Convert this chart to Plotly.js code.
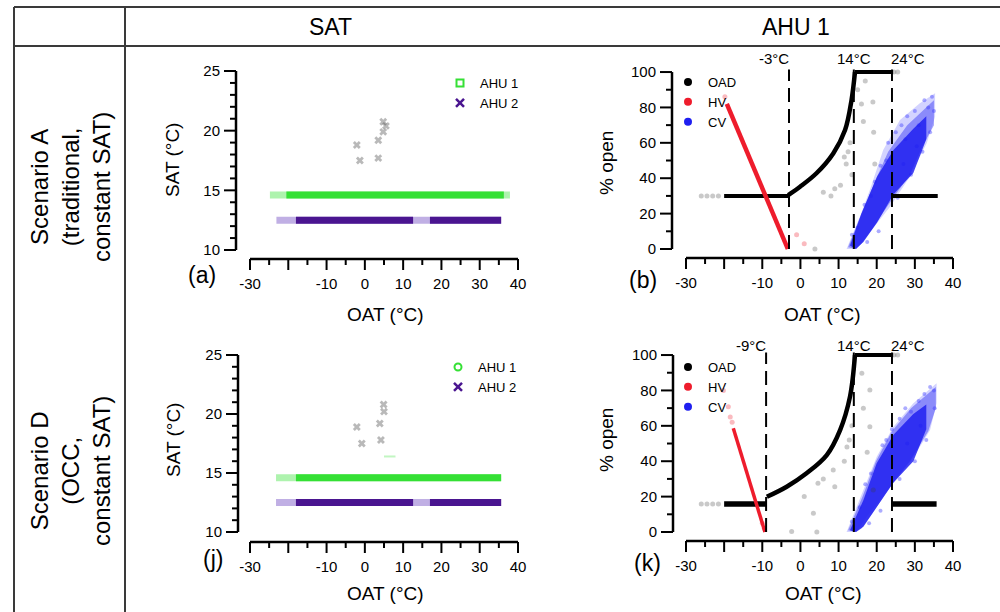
<!DOCTYPE html>
<html>
<head>
<meta charset="utf-8">
<script src="https://cdn.plot.ly/plotly-3.0.1.min.js"></script>
<style>html,body{margin:0;padding:0;background:#fff}#chart{width:1000px;height:612px}</style>
</head>
<body>
<div id="chart"></div>
<script>
// ---------- DATA ----------
const columnHeads = ['SAT', 'AHU 1'];
const rowHeads = ['Scenario A<br>(traditional,<br>constant SAT)', 'Scenario D<br>(OCC,<br>constant SAT)'];
const panelTags = ['(a)', '(b)', '(j)', '(k)'];

// Axis ticks
const oatTicks = [-30, -20, -10, 0, 10, 20, 30, 40];
const oatTickText = ['-30', '', '-10', '0', '10', '20', '30', '40'];
const oatMinor = [-25, -15, -5, 5, 15, 25, 35];
const satTicks = [10, 15, 20, 25];
const satMinor = [11, 12, 13, 14, 16, 17, 18, 19, 21, 22, 23, 24];
const openTicks = [0, 20, 40, 60, 80, 100];
const openMinor = [10, 30, 50, 70, 90];

// ---- Panel (a): SAT vs OAT, Scenario A ----
const ahu1A_lightX = [-24.8, 37.9], ahu1A_lightY = [14.6, 14.6];
const ahu1A_X = [-20.5, 36.3], ahu1A_Y = [14.6, 14.6];
const ahu2A_lightX = [-23.1, 35.6], ahu2A_lightY = [12.5, 12.5];
const ahu2A_X = [-18, 12.6, null, 17, 35.6], ahu2A_Y = [12.5, 12.5, null, 12.5, 12.5];
const grayA_X = [-2.1, 3.5, 4.8, 4.8, -1.3, 3.5, 5.5];
const grayA_Y = [18.8, 19.2, 20.75, 19.9, 17.5, 17.7, 20.4];

// ---- Panel (j): SAT vs OAT, Scenario D ----
const ahu1J_lightX = [-23.2, 35.6], ahu1J_lightY = [14.6, 14.6];
const ahu1J_X = [-18, 35.6], ahu1J_Y = [14.6, 14.6];
const ahu2J_lightX = [-23.2, 35.6], ahu2J_lightY = [12.5, 12.5];
const ahu2J_X = [-18, 12.6, null, 17, 35.6], ahu2J_Y = [12.5, 12.5, null, 12.5, 12.5];
const faintJ_X = [5, 8], faintJ_Y = [16.4, 16.4];
const grayJ_X = [-2.1, 3.9, 4.9, 5.0, -0.8, 4.2];
const grayJ_Y = [18.9, 19.2, 20.8, 20.2, 17.5, 17.8];

// ---- Panel (b): % open vs OAT, Scenario A ----
const cvB_outerX = [12.1, 15.6, 18.2, 21.7, 26.1, 31.3, 35.3, 35.3, 33.1, 28.7, 23.5, 17.3, 14.7];
const cvB_outerY = [0, 18.3, 33.3, 55.9, 72.9, 82.3, 88, 74.8, 59.7, 40.9, 23.9, 7, 0];
const cvB_midX = [12.5, 15.8, 19.5, 23, 28, 33, 35, 35, 32, 28.7, 24, 19, 16, 14.6];
const cvB_midY = [1, 19, 38, 55, 70, 80, 84, 70, 58, 42, 28, 12, 3, 0];
const cvB_coreX = [13, 16, 20.1, 24.4, 29.6, 33, 33, 29.6, 24.4, 20.1, 16.5, 14.5];
const cvB_coreY = [2, 20, 41, 56, 68, 75, 62, 43, 31, 15, 4, 0];
const cvB_ptsX = [13.5, 15, 16.8, 18.5, 19.5, 21, 22.5, 23, 25, 26.5, 27.5, 28, 30, 31, 32.5, 33.5, 34.5, 35, 17.5, 20.5, 25.5, 29, 32, 34, 27, 30.5];
const cvB_ptsY = [8, 12, 25, 30, 38, 47, 50, 60, 66, 70, 62, 75, 78, 70, 84, 80, 86, 78, 4, 10, 29, 42, 55, 66, 48, 58];
const oadB_lowX = [-20, -3.2], oadB_lowY = [30, 30];
const oadB_curveX = [-3.2, -0.1, 4.2, 8.6, 11.7, 13.4, 14.3];
const oadB_curveY = [30.5, 35.2, 42.8, 54, 67.2, 84.2, 100];
const oadB_topX = [14.3, 24.3], oadB_topY = [100, 100];
const oadB_highX = [24, 36], oadB_highY = [30, 30];
const oadB_grayX = [-26, -24.5, -23, -21.5, 11.5, 12, 12.5, 13, 15, 16, 16.5, 17, 19, 19.2, 19.5, 3.8, 6, 9, 8, 10.5, 13.5, 24.5, 25.5];
const oadB_grayY = [30, 30, 30, 30, 52, 48, 55, 60, 90, 82, 72, 95, 83, 66, 48, 0, 32, 34, 30, 36, 42, 100, 100];
const hvB_X = [-19.3, -3.3], hvB_Y = [82, 0];
const hvB_faintX = [-19.8, -1, 1], hvB_faintY = [86, 8, 3];
const markersB = {labels: ['-3°C', '14°C', '24°C'], x: [-3, 14, 24], anchor: ['right', 'center', 'left']};

// ---- Panel (k): % open vs OAT, Scenario D ----
const cvK_outerX = [12.1, 16.5, 20, 24.4, 29.6, 35.7, 35.7, 34, 28.7, 23.6, 17.4, 14.7];
const cvK_outerY = [0, 23.7, 42.5, 59.5, 72.7, 84, 72.7, 57.6, 38.8, 25.6, 8.7, 0];
const cvK_midX = [12.5, 16.3, 19.8, 24, 29, 33.5, 35.5, 35.5, 33.5, 28.7, 24, 19, 16, 14.6];
const cvK_midY = [1, 20, 40, 57, 70, 78, 82, 70, 57, 40, 27, 11, 2, 0];
const cvK_coreX = [13, 16.5, 20, 24.4, 29.6, 33, 33, 29.6, 24.4, 20, 16.5, 14.5];
const cvK_coreY = [1, 18, 38.8, 55, 66.7, 72, 58, 40, 28, 14.3, 3, 0];
const cvK_ptsX = [13.5, 15.5, 17, 18.5, 21.5, 22.5, 24, 26, 27.5, 29, 31, 32.5, 34, 35, 18, 21, 26, 30, 33, 35.2, 28, 31.5];
const cvK_ptsY = [6, 14, 27, 33, 49, 52, 58, 64, 70, 68, 74, 78, 82, 80, 5, 12, 30, 40, 52, 70, 50, 60];
const oadK_lowX = [-20, -8.8], oadK_lowY = [15.8, 15.8];
const oadK_curveX = [-8.8, -3.6, 1.6, 6.9, 10.4, 13, 14.3];
const oadK_curveY = [19.9, 25.6, 33.2, 43.5, 57.6, 76.5, 100];
const oadK_topX = [14.3, 24.3], oadK_topY = [100, 100];
const oadK_highX = [24, 35.7], oadK_highY = [15.8, 15.8];
const oadK_grayX = [-26, -24.5, -23, -21.5, 16.1, 18.2, 18.2, 12.2, 12.8, 3.4, -2.3, 4.3, 8.6, 9, 4.6, 19.1, 16.5, 17.5, 11.5, 13.5, 24.5, 25.5, 6, 1];
const oadK_grayY = [15.8, 15.8, 15.8, 15.8, 89.7, 80.2, 59.5, 48, 52, 10.6, 0.3, 0, 35, 25.6, 27.5, 23.7, 70, 45, 40, 60, 100, 100, 30, 20];
const hvK_X = [-17.6, -9.3], hvK_Y = [58.6, 0];
const hvK_faintX = [-20.2, -18.9, -18.4, -17.9, -10, -9.5], hvK_faintY = [80, 70.8, 65, 62, 5, 2];
const markersK = {labels: ['-9°C', '14°C', '24°C'], x: [-9, 14, 24], anchor: ['right', 'center', 'left']};

// ---------- STYLE ----------
const FONT = 'Liberation Sans, Arial, sans-serif';
const GREEN = '#35e035', GREEN_L = 'rgba(53,224,53,0.4)';
const PURPLE = '#4a1590', PURPLE_L = 'rgba(140,110,205,0.55)';
const BLUE = '#1f1ff0', RED = '#ee1c2c';
const W = 1000, H = 612;
const px = v => v / W, py = v => 1 - v / H;

function line(x, y, xa, ya, color, width, shape) {
  return {x: x, y: y, xaxis: xa, yaxis: ya, mode: 'lines', showlegend: false, hoverinfo: 'skip',
    line: {color: color, width: width, shape: shape || 'linear'}};
}
function pts(x, y, xa, ya, color, size, symbol) {
  return {x: x, y: y, xaxis: xa, yaxis: ya, mode: 'markers', showlegend: false, hoverinfo: 'skip',
    marker: {color: color, size: size, symbol: symbol || 'circle', line: {width: 0}}};
}
function poly(x, y, xa, ya, color) {
  return {x: x, y: y, xaxis: xa, yaxis: ya, mode: 'lines', fill: 'toself', fillcolor: color,
    line: {width: 0, color: color}, showlegend: false, hoverinfo: 'skip'};
}
function legendItem(name, legend, xa, ya, marker) {
  return {x: [null], y: [null], xaxis: xa, yaxis: ya, mode: 'markers', name: name, legend: legend,
    showlegend: true, marker: marker};
}

const traces = [];
// (a)
traces.push(line(ahu1A_lightX, ahu1A_lightY, 'x', 'y', GREEN_L, 7));
traces.push(line(ahu1A_X, ahu1A_Y, 'x', 'y', GREEN, 7));
traces.push(line(ahu2A_lightX, ahu2A_lightY, 'x', 'y', PURPLE_L, 7));
traces.push(line(ahu2A_X, ahu2A_Y, 'x', 'y', PURPLE, 7));
traces.push(pts(grayA_X, grayA_Y, 'x', 'y', 'rgba(80,80,80,0.4)', 7, 'x'));
traces.push(legendItem('AHU 1', 'legend', 'x', 'y', {symbol: 'square-open', size: 7, color: GREEN, line: {width: 2, color: GREEN}}));
traces.push(legendItem('AHU 2', 'legend', 'x', 'y', {symbol: 'x-thin-open', size: 8, color: PURPLE, line: {width: 2.5, color: PURPLE}}));
// (j)
traces.push(line(ahu1J_lightX, ahu1J_lightY, 'x3', 'y3', GREEN_L, 7));
traces.push(line(ahu1J_X, ahu1J_Y, 'x3', 'y3', GREEN, 7));
traces.push(line(ahu2J_lightX, ahu2J_lightY, 'x3', 'y3', PURPLE_L, 7));
traces.push(line(ahu2J_X, ahu2J_Y, 'x3', 'y3', PURPLE, 7));
traces.push(line(faintJ_X, faintJ_Y, 'x3', 'y3', 'rgba(53,224,53,0.3)', 2));
traces.push(pts(grayJ_X, grayJ_Y, 'x3', 'y3', 'rgba(80,80,80,0.4)', 7, 'x'));
traces.push(legendItem('AHU 1', 'legend3', 'x3', 'y3', {symbol: 'circle-open', size: 7, color: GREEN, line: {width: 2, color: GREEN}}));
traces.push(legendItem('AHU 2', 'legend3', 'x3', 'y3', {symbol: 'x-thin-open', size: 8, color: PURPLE, line: {width: 2.5, color: PURPLE}}));

function openPanel(xa, ya, cvO, cvM, cvC, cvP, oad, hv, hvF, lowW, hvW, lg) {
  traces.push(poly(cvO[0], cvO[1], xa, ya, 'rgba(110,110,255,0.3)'));
  traces.push(pts(cvP[0], cvP[1], xa, ya, 'rgba(70,70,255,0.45)', 4));
  traces.push(poly(cvM[0], cvM[1], xa, ya, 'rgba(50,50,245,0.45)'));
  traces.push(poly(cvC[0], cvC[1], xa, ya, 'rgba(25,25,240,0.8)'));
  traces.push(pts(oad.grayX, oad.grayY, xa, ya, 'rgba(60,60,60,0.28)', 5));
  traces.push(line(oad.lowX, oad.lowY, xa, ya, '#000', lowW));
  traces.push(line(oad.curveX, oad.curveY, xa, ya, '#000', 4.5, 'spline'));
  traces.push(line(oad.topX, oad.topY, xa, ya, '#000', 4));
  traces.push(line(oad.highX, oad.highY, xa, ya, '#000', lowW));
  traces.push(pts(hvF[0], hvF[1], xa, ya, 'rgba(238,28,44,0.3)', 5));
  traces.push(line(hv[0], hv[1], xa, ya, RED, hvW));
  traces.push(legendItem('OAD', lg, xa, ya, {symbol: 'circle', size: 8, color: '#000'}));
  traces.push(legendItem('HV', lg, xa, ya, {symbol: 'circle', size: 8, color: RED}));
  traces.push(legendItem('CV', lg, xa, ya, {symbol: 'circle', size: 8, color: BLUE}));
}
openPanel('x2', 'y2', [cvB_outerX, cvB_outerY], [cvB_midX, cvB_midY], [cvB_coreX, cvB_coreY], [cvB_ptsX, cvB_ptsY],
  {lowX: oadB_lowX, lowY: oadB_lowY, curveX: oadB_curveX, curveY: oadB_curveY, topX: oadB_topX, topY: oadB_topY,
   highX: oadB_highX, highY: oadB_highY, grayX: oadB_grayX, grayY: oadB_grayY},
  [hvB_X, hvB_Y], [hvB_faintX, hvB_faintY], 4, 4.5, 'legend2');
openPanel('x4', 'y4', [cvK_outerX, cvK_outerY], [cvK_midX, cvK_midY], [cvK_coreX, cvK_coreY], [cvK_ptsX, cvK_ptsY],
  {lowX: oadK_lowX, lowY: oadK_lowY, curveX: oadK_curveX, curveY: oadK_curveY, topX: oadK_topX, topY: oadK_topY,
   highX: oadK_highX, highY: oadK_highY, grayX: oadK_grayX, grayY: oadK_grayY},
  [hvK_X, hvK_Y], [hvK_faintX, hvK_faintY], 5.5, 3.5, 'legend4');

// ---------- AXES ----------
const tickFont = {size: 15, color: '#000', family: FONT};
const NOTICK = 'rgba(0,0,0,0)';
function xAxis(domain, range, anchor, vals, text) {
  return {domain: domain, range: range, anchor: anchor, showline: false, ticks: 'outside', ticklen: 11,
    tickwidth: 2, tickcolor: NOTICK, tickmode: 'array', tickvals: vals, ticktext: text, tickfont: tickFont,
    showgrid: false, zeroline: false, fixedrange: true};
}
function yAxis(domain, range, anchor, vals) {
  return {domain: domain, range: range, anchor: anchor, showline: false, ticks: 'outside', ticklen: 12,
    tickwidth: 2, tickcolor: NOTICK, tickmode: 'array', tickvals: vals, ticktext: vals.map(String), tickfont: tickFont,
    showgrid: false, zeroline: false, fixedrange: true};
}
const rangeXA = [-33.657, 40], rangeYA = [9.246, 25];
const rangeXB = [-33.670, 40], rangeYB = [-5.085, 102];
const rangeXJ = [-33.134, 40], rangeYJ = [9.1525, 25];
const rangeXK = [-33.408, 40], rangeYK = [-5.085, 102];
const domXA = [0.236, 0.518], domYA = [py(259), py(71)];
const domXB = [0.672, 0.953], domYB = [py(258), py(68.5)];
const domXJ = [0.238, 0.518], domYJ = [py(542), py(355)];
const domXK = [0.673, 0.953], domYK = [py(541), py(351.5)];

// ---------- ANNOTATIONS ----------
const ann = [];
function txt(text, x, y, size, extra) {
  ann.push(Object.assign({text: text, x: x, y: y, xref: 'paper', yref: 'paper', showarrow: false,
    xanchor: 'center', yanchor: 'middle', font: {size: size, color: '#000', family: FONT}}, extra || {}));
}
txt(columnHeads[0], px(330), py(27), 23);
txt(columnHeads[1], px(796), py(27), 23);
txt(rowHeads[0], px(70), py(187), 24, {textangle: -90});
txt(rowHeads[1], px(70), py(471), 24, {textangle: -90});
txt('SAT (°C)', px(173), py(160), 19, {textangle: -90});
txt('SAT (°C)', px(173), py(440), 19, {textangle: -90});
txt('% open', px(607), py(163), 19, {textangle: -90});
txt('% open', px(606), py(440), 19, {textangle: -90});
txt('OAT (°C)', px(385), py(314), 19);
txt('OAT (°C)', px(822), py(314), 19);
txt('OAT (°C)', px(385), py(593), 19);
txt('OAT (°C)', px(823), py(593), 19);
txt(panelTags[0], px(202), py(275), 23);
txt(panelTags[1], px(643), py(280), 23);
txt(panelTags[2], px(213), py(559), 23);
txt(panelTags[3], px(647), py(563), 23);
function markerLabels(m, xa, yPix) {
  m.labels.forEach((t, i) => {
    ann.push({text: t, x: m.x[i], y: py(yPix), xref: xa, yref: 'paper', showarrow: false,
      xanchor: m.anchor[i], yanchor: 'middle', xshift: m.anchor[i] === 'right' ? 2 : (m.anchor[i] === 'left' ? -3 : 0),
      font: {size: 15, color: '#000', family: FONT}});
  });
}
markerLabels(markersB, 'x2', 58);
markerLabels(markersK, 'x4', 345);

// ---------- SHAPES ----------
const shapes = [];
const tableColor = '#3a3a3a';
function hline(y, x0, x1) { shapes.push({type: 'line', xref: 'paper', yref: 'paper', x0: px(x0), x1: px(x1), y0: py(y), y1: py(y), line: {color: tableColor, width: 2}}); }
function vline(x, y0, y1) { shapes.push({type: 'line', xref: 'paper', yref: 'paper', x0: px(x), x1: px(x), y0: py(y0), y1: py(y1), line: {color: tableColor, width: 2}}); }
hline(7, 14, 1000); hline(46, 14, 1000);
vline(14, 7, 612); vline(125, 7, 612);

// Detached axis lines and tick marks, in paper units derived from each axis' domain and range
function toPaper(v, dom, r) { return dom[0] + (v - r[0]) / (r[1] - r[0]) * (dom[1] - dom[0]); }
function axisFrame(xd, yd, xr, yr, xMaj, xMin, yMaj, yMin) {
  const black = {color: '#000', width: 2};
  const xLine = yd[0], yLine = xd[0];
  shapes.push({type: 'line', xref: 'paper', yref: 'paper', x0: toPaper(xMaj[0], xd, xr), x1: toPaper(xMaj[xMaj.length - 1], xd, xr),
    y0: xLine, y1: xLine, line: {color: '#000', width: 2.5}});
  shapes.push({type: 'line', xref: 'paper', yref: 'paper', x0: yLine, x1: yLine,
    y0: toPaper(yMaj[0], yd, yr), y1: toPaper(yMaj[yMaj.length - 1], yd, yr), line: {color: '#000', width: 2.5}});
  xMaj.forEach(v => { const f = toPaper(v, xd, xr); shapes.push({type: 'line', xref: 'paper', yref: 'paper', x0: f, x1: f, y0: xLine, y1: xLine - 11 / H, line: black}); });
  xMin.forEach(v => { const f = toPaper(v, xd, xr); shapes.push({type: 'line', xref: 'paper', yref: 'paper', x0: f, x1: f, y0: xLine, y1: xLine - 6 / H, line: black}); });
  yMaj.forEach(v => { const f = toPaper(v, yd, yr); shapes.push({type: 'line', xref: 'paper', yref: 'paper', x0: yLine, x1: yLine - 12 / W, y0: f, y1: f, line: black}); });
  yMin.forEach(v => { const f = toPaper(v, yd, yr); shapes.push({type: 'line', xref: 'paper', yref: 'paper', x0: yLine, x1: yLine - 6 / W, y0: f, y1: f, line: black}); });
}
axisFrame(domXA, domYA, rangeXA, rangeYA, oatTicks, oatMinor, satTicks, satMinor);
axisFrame(domXB, domYB, rangeXB, rangeYB, oatTicks, oatMinor, openTicks, openMinor);
axisFrame(domXJ, domYJ, rangeXJ, rangeYJ, oatTicks, oatMinor, satTicks, satMinor);
axisFrame(domXK, domYK, rangeXK, rangeYK, oatTicks, oatMinor, openTicks, openMinor);

function dashes(m, xa, ya) {
  m.x.forEach(v => shapes.push({type: 'line', xref: xa, yref: ya, x0: v, x1: v, y0: 0, y1: 101.5,
    line: {color: '#000', width: 2, dash: '14px,7px'}}));
}
dashes(markersB, 'x2', 'y2');
dashes(markersK, 'x4', 'y4');

function legendCfg(x, y) {
  return {x: px(x), y: py(y), xanchor: 'left', yanchor: 'top', bgcolor: 'rgba(0,0,0,0)', borderwidth: 0,
    font: {size: 13, color: '#000', family: FONT}, itemwidth: 30, tracegroupgap: 0};
}

const layout = {
  width: W, height: H, margin: {l: 0, r: 0, t: 0, b: 0, autoexpand: false},
  paper_bgcolor: '#fff', plot_bgcolor: 'rgba(0,0,0,0)', font: {family: FONT, color: '#000'},
  xaxis: xAxis(domXA, rangeXA, 'y', oatTicks, oatTickText),
  yaxis: yAxis(domYA, rangeYA, 'x', satTicks),
  xaxis2: xAxis(domXB, rangeXB, 'y2', oatTicks, oatTickText),
  yaxis2: yAxis(domYB, rangeYB, 'x2', openTicks),
  xaxis3: xAxis(domXJ, rangeXJ, 'y3', oatTicks, oatTickText),
  yaxis3: yAxis(domYJ, rangeYJ, 'x3', satTicks),
  xaxis4: xAxis(domXK, rangeXK, 'y4', oatTicks, oatTickText),
  yaxis4: yAxis(domYK, rangeYK, 'x4', openTicks),
  legend: legendCfg(440, 68),
  legend2: legendCfg(668, 67),
  legend3: legendCfg(438, 352),
  legend4: legendCfg(668, 352),
  annotations: ann,
  shapes: shapes,
  showlegend: true
};

Plotly.newPlot('chart', traces, layout, {staticPlot: true, displayModeBar: false});
</script>
</body>
</html>
